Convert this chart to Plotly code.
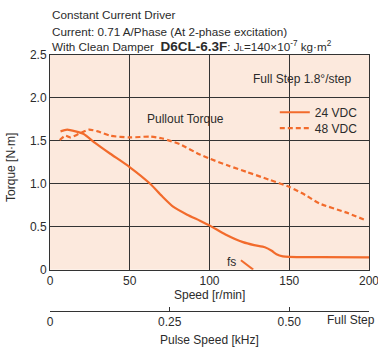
import plotly.graph_objects as go

# ---- data ----
speed_24 = [6.6, 10.7, 16, 21.1, 28, 37.8, 49.9, 62.8, 70, 77.4, 86, 94, 100.5, 110, 121, 128, 134.7, 139, 142, 146, 150, 170, 200]
torque_24 = [1.61, 1.63, 1.61, 1.58, 1.48, 1.35, 1.195, 1.0, 0.86, 0.73, 0.64, 0.57, 0.51, 0.41, 0.32, 0.285, 0.26, 0.22, 0.18, 0.155, 0.148, 0.145, 0.142]
speed_48 = [6.1, 9.7, 12.7, 18, 24.3, 30, 37.8, 50, 62.8, 70, 75.3, 81.6, 94, 100.5, 112, 123, 137, 150.5, 160, 169, 185, 198]
torque_48 = [1.51, 1.56, 1.54, 1.58, 1.63, 1.61, 1.56, 1.54, 1.55, 1.53, 1.50, 1.46, 1.34, 1.29, 1.21, 1.14, 1.05, 0.96, 0.87, 0.77, 0.67, 0.575]
fs_speed = [119.7, 127.4]
fs_torque = [0.11, 0.0]
x_ticks = [0, 50, 100, 150, 200]
y_ticks = [0, 0.5, 1.0, 1.5, 2.0, 2.5]
y_ticklabels = ["0", "0.5", "1.0", "1.5", "2.0", "2.5"]
khz_ticks = [0, 0.25, 0.5]
khz_ticklabels = ["0", "0.25", "0.50"]

W, H = 378, 351
ML, MR, MT, MB = 49.5, 8.5, 54.5, 3
plot_bottom_px = 269.5
paper_h = H - MT - MB
def fy(py):
    return (H - MB - py) / paper_h
def fx(px):
    return (px - ML) / (W - ML - MR)

ORANGE = "#F26B2C"
FONT = "Liberation Sans, Arial, sans-serif"
TXT = "#2b2b2b"
FS = 12

fig = go.Figure()
fig.add_trace(go.Scatter(x=speed_24, y=torque_24, mode="lines", name="24 VDC", legend="legend",
                         line=dict(color=ORANGE, width=2.2, shape="spline", smoothing=0.6)))
fig.add_trace(go.Scatter(x=speed_48, y=torque_48, mode="lines", name="48 VDC", legend="legend2",
                         line=dict(color=ORANGE, width=2.2, dash="5px,3px", shape="spline", smoothing=0.6)))
fig.add_trace(go.Scatter(x=fs_speed, y=fs_torque, mode="lines", showlegend=False,
                         line=dict(color=ORANGE, width=2)))
# secondary axis carrier (invisible)
fig.add_trace(go.Scatter(x=[0, 200 / 300], y=[0, 0], xaxis="x2", yaxis="y", mode="lines",
                         line=dict(width=0), showlegend=False, hoverinfo="skip"))

ydom0 = fy(plot_bottom_px)
leg_common = dict(xanchor="left", yanchor="top", bgcolor="rgba(0,0,0,0)", font=dict(size=FS),
                  itemwidth=30)
fig.update_layout(
    width=W, height=H,
    margin=dict(l=ML, r=MR, t=MT, b=MB, pad=0),
    paper_bgcolor="white",
    plot_bgcolor="#FCE9DD",
    font=dict(family=FONT, size=FS, color=TXT),
    xaxis=dict(range=[0, 200], tickvals=x_ticks, showgrid=True, gridcolor="#333333", gridwidth=1,
               showline=True, linecolor="#333333", linewidth=1, mirror=True, zeroline=False,
               ticks="", automargin=False, ticklabeloverflow="allow"),
    yaxis=dict(range=[0, 2.5], domain=[ydom0, 1], tickvals=y_ticks, ticktext=y_ticklabels,
               showgrid=True, gridcolor="#333333", gridwidth=1, showline=True, linecolor="#333333",
               linewidth=1, mirror=True, zeroline=False, ticks="", automargin=False),
    xaxis2=dict(range=[0, 200 / 300], anchor="free", overlaying="x", position=fy(311),
                tickvals=khz_ticks, ticktext=khz_ticklabels, showgrid=False, zeroline=False,
                showline=True, linecolor="#333333", linewidth=1, ticks="inside", ticklen=4,
                tickcolor="#333333", side="bottom", automargin=False),
    legend=dict(x=fx(275), y=fy(112.3 - 15), **leg_common),
    legend2=dict(x=fx(275), y=fy(128.3 - 15), **leg_common),
    showlegend=True,
)

header = [
    ("Constant Current Driver", 14),
    ("Current: 0.71 A/Phase (At 2-phase excitation)", 31),
    ("With Clean Damper  <b><span style='font-size:13.5px'>D6CL-6.3F</span></b>: J<span style='font-size:8px'>L</span>=140×10<sup>-7</sup> kg·m<sup>2</sup>", 46),
]
for txt, py in header:
    fig.add_annotation(text=txt, xref="paper", yref="paper", x=0, y=fy(py), xanchor="left",
                       yanchor="middle", showarrow=False, font=dict(size=11.7, color=TXT))

fig.add_annotation(text="Speed [r/min]", xref="paper", yref="paper", x=0.5, y=fy(295),
                   xanchor="center", yanchor="middle", showarrow=False)
fig.add_annotation(text="Pulse Speed [kHz]", xref="paper", yref="paper", x=0.5, y=fy(339.5),
                   xanchor="center", yanchor="middle", showarrow=False)
fig.add_annotation(text="Torque [N·m]", xref="paper", yref="paper", x=fx(11), y=fy(167),
                   xanchor="center", yanchor="middle", showarrow=False, textangle=-90)
fig.add_annotation(text="Full Step 1.8°/step", xref="x", yref="y", x=190.5, y=2.22, xanchor="right",
                   yanchor="middle", showarrow=False)
fig.add_annotation(text="Pullout Torque", xref="x", yref="y", x=85, y=1.75, xanchor="center",
                   yanchor="middle", showarrow=False)
fig.add_annotation(text="fs", xref="x", yref="y", x=114, y=0.09, xanchor="center",
                   yanchor="middle", showarrow=False)
fig.add_annotation(text="Full Step", xref="paper", yref="paper", x=fx(378), y=fy(320), xanchor="right",
                   yanchor="middle", showarrow=False)

fig.write_html("out.html", config={"displayModeBar": False},
               post_script="document.body.style.margin='0px';")
